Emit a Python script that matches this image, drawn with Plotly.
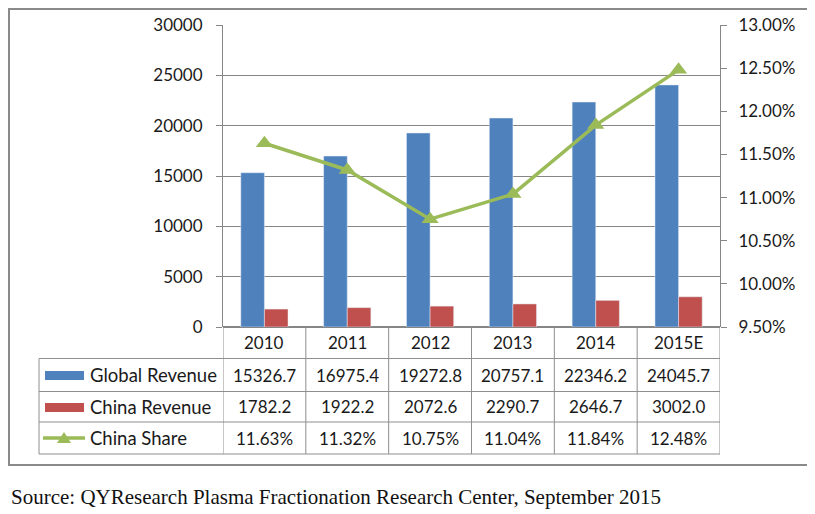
import plotly.graph_objects as go

years = ["2010", "2011", "2012", "2013", "2014", "2015E"]
global_rev = [15326.7, 16975.4, 19272.8, 20757.1, 22346.2, 24045.7]
china_rev = [1782.2, 1922.2, 2072.6, 2290.7, 2646.7, 3002.0]
china_share = [11.63, 11.32, 10.75, 11.04, 11.84, 12.48]
series_names = ["Global Revenue", "China Revenue", "China Share"]
source_text = "Source: QYResearch Plasma Fractionation Research Center, September 2015"

BLUE = "#4F81BD"
RED = "#C0504D"
GREEN = "#9BBB59"
GRID = "#868686"
TBL = "#8E8E8E"
FONT = "Lato"

OFF = 8  # page body margin
W, H = 815 - OFF, 514 - OFF
L, R, T, B = 223 - OFF, 720 - OFF, 25 - OFF, 327 - OFF
pw, ph = R - L, B - T


def px(x):
    return (x - OFF - L) / pw


def py(y):
    return (B - (y - OFF)) / ph


fig = go.Figure()
fig.add_trace(go.Bar(x=years, y=global_rev, name=series_names[0], marker_color=BLUE))
fig.add_trace(go.Bar(x=years, y=china_rev, name=series_names[1], marker_color=RED))
fig.add_trace(go.Scatter(x=years, y=[v / 100 for v in china_share], name=series_names[2],
                         yaxis="y2", mode="lines+markers",
                         line=dict(color=GREEN, width=3.5),
                         marker=dict(symbol="triangle-up", size=15, color=GREEN)))

shapes = []
ann = []
n = len(years)
row_y = [327, 358.5, 391.5, 422, 454]
# outer border (clamped to the figure area)
shapes.append(dict(type="rect", xref="paper", yref="paper", x0=px(9), x1=px(812), y0=py(9), y1=py(465),
                   line=dict(color="#8A8A8A", width=2), layer="below"))
# vertical lines
for i in range(n + 1):
    shapes.append(dict(type="line", xref="x", yref="paper", x0=i - 0.5, x1=i - 0.5,
                       y0=py(row_y[0]), y1=py(row_y[-1]), line=dict(color=TBL, width=1)))
shapes.append(dict(type="line", xref="paper", yref="paper", x0=px(39), x1=px(39),
                   y0=py(row_y[1]), y1=py(row_y[-1]), line=dict(color=TBL, width=1)))
# horizontal lines
for yy in row_y[1:]:
    shapes.append(dict(type="line", xref="paper", yref="paper", x0=px(39), x1=1,
                       y0=py(yy), y1=py(yy), line=dict(color=TBL, width=1)))

centers = [(row_y[k] + row_y[k + 1]) / 2 for k in range(4)]
tfont = dict(family=FONT, size=17, color="#1a1a1a")
lfont = dict(family=FONT, size=18.5, color="#1a1a1a")


def cell(i, row, text):
    return dict(x=i, xref="x", y=py(centers[row]), yref="paper", text=text, showarrow=False,
                xanchor="center", yanchor="middle", font=tfont)


for i, yr in enumerate(years):
    ann.append(cell(i, 0, yr))
    ann.append(cell(i, 1, f"{global_rev[i]:.1f}"))
    ann.append(cell(i, 2, f"{china_rev[i]:.1f}"))
    ann.append(cell(i, 3, f"{china_share[i]:.2f}%"))

# legend keys
shapes.append(dict(type="rect", xref="paper", yref="paper", x0=px(45), x1=px(84), y0=py(371), y1=py(380),
                   fillcolor=BLUE, line=dict(width=0)))
shapes.append(dict(type="rect", xref="paper", yref="paper", x0=px(45), x1=px(84), y0=py(403), y1=py(412),
                   fillcolor=RED, line=dict(width=0)))
shapes.append(dict(type="line", xref="paper", yref="paper", x0=px(43), x1=px(85), y0=py(438), y1=py(438),
                   line=dict(color=GREEN, width=3.5)))
shapes.append(dict(type="path", xref="paper", yref="paper",
                   path=f"M {px(57)} {py(443)} L {px(71)} {py(443)} L {px(64)} {py(432)} Z",
                   fillcolor=GREEN, line=dict(width=0)))
for k, nm in enumerate(series_names):
    ann.append(dict(x=px(88), xref="paper", y=py(centers[k + 1]), yref="paper", text=nm,
                    showarrow=False, xanchor="left", yanchor="middle", font=lfont))

ann.append(dict(x=px(9), xref="paper", y=py(497), yref="paper", text=source_text, showarrow=False,
                xanchor="left", yanchor="middle",
                font=dict(family="Liberation Serif", size=21, color="#111")))

fig.update_layout(
    width=W, height=H,
    margin=dict(l=L, r=W - R, t=T, b=H - B, pad=0, autoexpand=False),
    paper_bgcolor="white", plot_bgcolor="white",
    barmode="group", bargap=0.43, bargroupgap=0,
    showlegend=False,
    font=dict(family=FONT, size=17, color="#1a1a1a"),
    xaxis=dict(showticklabels=False, ticks="", showgrid=False, showline=False, zeroline=False,
               range=[-0.5, n - 0.5], automargin=False),
    yaxis=dict(range=[0, 30000], dtick=5000, tickformat="d", showgrid=True, gridcolor=GRID, gridwidth=1,
               showline=True, linecolor=GRID, linewidth=1, ticks="outside", ticklen=6,
               tickcolor=GRID, zeroline=True, zerolinecolor=GRID, ticklabelstandoff=10,
               tickfont=dict(family=FONT, size=17), automargin=False),
    yaxis2=dict(range=[0.095, 0.13], dtick=0.005, tickformat=".2%", overlaying="y", side="right",
                showgrid=False, showline=True, linecolor=GRID, linewidth=1, ticks="outside",
                ticklen=6, tickcolor=GRID, zeroline=False, ticklabelstandoff=8,
                tickfont=dict(family=FONT, size=17), automargin=False),
    shapes=shapes, annotations=ann,
)

fig.write_html("out.html")
